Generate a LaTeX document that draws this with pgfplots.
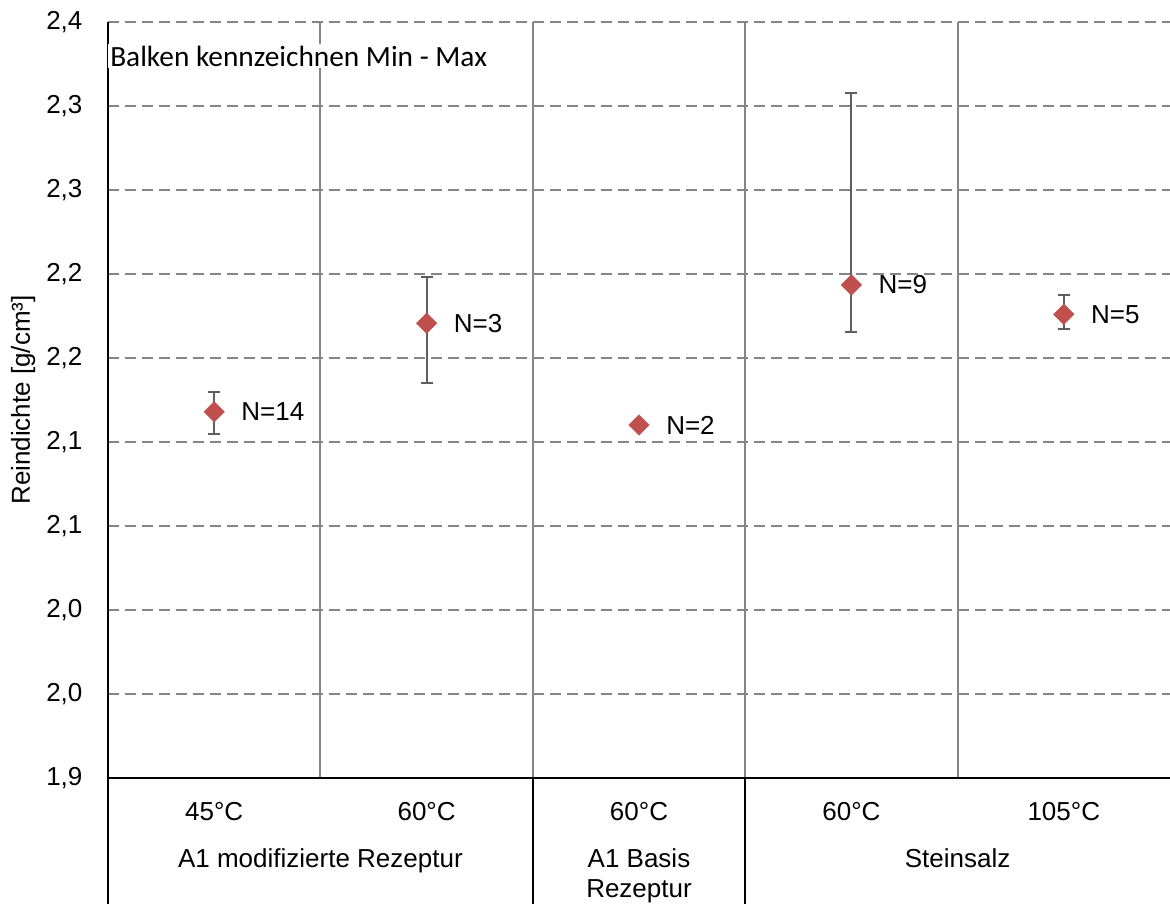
\documentclass[border=0pt]{standalone}
\usepackage{pgfplots}
\usepackage{pgfplotstable}
\pgfplotsset{compat=1.18}
\usepackage{fontspec}
\setmainfont{Liberation Sans}
\newfontfamily\calibri{Carlito}
\definecolor{mred}{HTML}{C0504D}
\definecolor{gridgray}{HTML}{858585}
\definecolor{errgray}{HTML}{5F5F5F}
\pgfplotstableread{
x y ep em lab
0 2.1680 0.0116 0.0134 N=14
1 2.2207 0.0277 0.0358 N=3
2 2.1601 0 0 N=2
3 2.2435 0.1144 0.0278 N=9
4 2.2260 0.0115 0.0087 N=5
}\datatable
\begin{document}
\begin{tikzpicture}
\begin{axis}[
  scale only axis, width=796.5pt, height=567pt,
  xmin=-0.5, xmax=4.5, ymin=1.95, ymax=2.40,
  clip=false,
  axis x line*=bottom, axis y line*=left,
  axis line style={-, line width=1.5pt, black},
  xtick={0,1,2,3,4},
  xticklabels={45°C,60°C,60°C,60°C,105°C},
  minor xtick={0.5,1.5,2.5,3.5},
  ytick={1.95,2.00,2.05,2.10,2.15,2.20,2.25,2.30,2.35,2.40},
  yticklabels={{1,9},{2,0},{2,0},{2,1},{2,1},{2,2},{2,2},{2,3},{2,3},{2,4}},
  major tick length=0pt, minor tick length=0pt,
  ymajorgrids, xminorgrids,
  major grid style={gridgray, line width=1.5pt, dash pattern=on 8.25pt off 4.5pt},
  minor grid style={gridgray, line width=1.5pt},
  tick label style={font=\fontsize{19.5}{22.5}\selectfont, inner sep=0pt},
  yticklabel style={anchor=east, xshift=-19pt},
  xticklabel style={anchor=base, yshift=-31.5pt},
  ylabel={Reindichte [g/cm³]},
  ylabel style={font=\fontsize{19.5}{22.5}\selectfont, at={(axis description cs:-0.08,0.5)}, anchor=center},
]
\addplot[only marks, mark=none, skip coords between index={2}{3},
  error bars/.cd, y dir=both, y explicit,
  error bar style={line width=1.5pt, errgray},
  error mark options={rotate=90, errgray, line width=1.5pt, mark size=4.5pt}]
  table[x=x, y=y, y error plus=ep, y error minus=em] {\datatable};
\addplot[only marks, mark=square*, mark size=5.4pt,
  mark options={rotate=45, fill=mred, draw=mred, line width=0.4pt},
  nodes near coords, point meta=explicit symbolic,
  nodes near coords style={anchor=west, xshift=20.25pt, inner sep=0pt, text=black,
    font=\fontsize{19.5}{22.5}\selectfont}]
  table[x=x, y=y, meta=lab] {\datatable};
\draw[black, line width=1.5pt] (axis cs:-0.5,1.95) -- ++(0pt,-94.5pt);
\draw[black, line width=1.5pt] (axis cs:1.5,1.95) -- ++(0pt,-94.5pt);
\draw[black, line width=1.5pt] (axis cs:2.5,1.95) -- ++(0pt,-94.5pt);
\node[anchor=base, inner sep=0pt, yshift=-66.75pt, font=\fontsize{19.5}{22.5}\selectfont] at (axis cs:0.5,1.95) {A1 modifizierte Rezeptur};
\node[anchor=base, inner sep=0pt, yshift=-66.75pt, font=\fontsize{19.5}{22.5}\selectfont] at (axis cs:2,1.95) {A1 Basis};
\node[anchor=base, inner sep=0pt, yshift=-89.25pt, font=\fontsize{19.5}{22.5}\selectfont] at (axis cs:2,1.95) {Rezeptur};
\node[anchor=base, inner sep=0pt, yshift=-66.75pt, font=\fontsize{19.5}{22.5}\selectfont] at (axis cs:3.5,1.95) {Steinsalz};
\node[anchor=west, fill=white, inner sep=1.5pt, font=\calibri\fontsize{22}{26}\selectfont] at (rel axis cs:0,0.955) {Balken kennzeichnen Min - Max};
\end{axis}
\pgfresetboundingbox
\path[use as bounding box] (-81pt,-94.5pt) rectangle (796.5pt,583.5pt);
\end{tikzpicture}
\end{document}
